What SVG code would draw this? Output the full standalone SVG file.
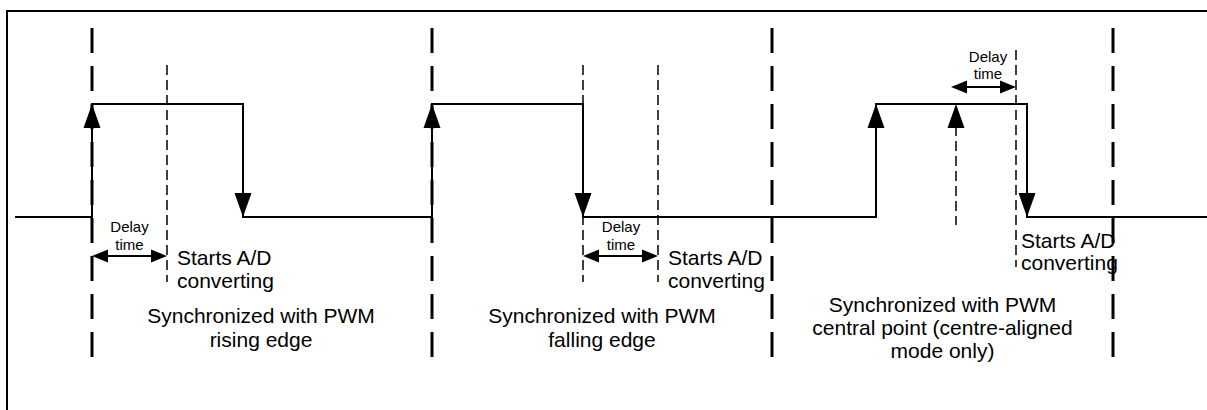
<svg xmlns="http://www.w3.org/2000/svg" xmlns:xlink="http://www.w3.org/1999/xlink" width="1207" height="410" viewBox="0 0 1207 410">
  <style>
    .frame { fill: none; stroke: #000; stroke-width: 2; }
    .thick { stroke: #000; stroke-width: 3; stroke-dasharray: 25 13; fill: none; }
    .thin { stroke: #000; stroke-width: 1.5; stroke-dasharray: 10 5; fill: none; }
    .wave { stroke: #000; stroke-width: 2; fill: none; }
    .delay { stroke: #000; stroke-width: 2; fill: none; }
    .head { fill: #000; stroke: none; }
    .lbl { font-family: "Liberation Sans", Arial, sans-serif; font-size: 21px; fill: #000; }
    .sm { font-family: "Liberation Sans", Arial, sans-serif; font-size: 15px; fill: #000; text-anchor: middle; }
    .mid { text-anchor: middle; }
  </style>
  <defs>
    <path id="vHead" class="head" d="M0,0 L-8.5,24 L8.5,24 Z"/>
    <path id="hHead" class="head" d="M0,0 L16,-6.5 L16,6.5 Z"/>
  </defs>
  <rect class="frame" x="7" y="11" width="1212" height="412"/>

  <g id="sync-lines">
    <line class="thick" x1="92" y1="28" x2="92" y2="358"/>
    <line class="thick" x1="432" y1="28" x2="432" y2="358"/>
    <line class="thick" x1="772" y1="28" x2="772" y2="358"/>
    <line class="thick" x1="1113" y1="28" x2="1113" y2="358"/>
    <line class="thin" x1="167" y1="65" x2="167" y2="282"/>
    <line class="thin" x1="583" y1="65" x2="583" y2="282"/>
    <line class="thin" x1="658" y1="65" x2="658" y2="282"/>
    <line class="thin" x1="1016" y1="50" x2="1016" y2="267"/>
    <line class="thin" x1="956" y1="126" x2="956" y2="225"/>
  </g>

  <g id="connectors">
    <path class="wave" d="M15,217 H92 V104 H243 V217 H432 V104 H583 V217 H876 V104 H1027 V217 H1207"/>
    <use xlink:href="#vHead" transform="translate(92,104)"/>
    <use xlink:href="#vHead" transform="translate(243,217) rotate(180)"/>
    <use xlink:href="#vHead" transform="translate(432,104)"/>
    <use xlink:href="#vHead" transform="translate(583,217) rotate(180)"/>
    <use xlink:href="#vHead" transform="translate(876,104)"/>
    <use xlink:href="#vHead" transform="translate(1027,217) rotate(180)"/>
    <use xlink:href="#vHead" transform="translate(956,104)"/>

    <line class="delay" x1="100" y1="256" x2="159" y2="256"/>
    <use xlink:href="#hHead" transform="translate(92,256)"/>
    <use xlink:href="#hHead" transform="translate(167,256) scale(-1,1)"/>

    <line class="delay" x1="591" y1="256" x2="650" y2="256"/>
    <use xlink:href="#hHead" transform="translate(583,256)"/>
    <use xlink:href="#hHead" transform="translate(658,256) scale(-1,1)"/>

    <line class="delay" x1="959" y1="87" x2="1008" y2="87"/>
    <use xlink:href="#hHead" transform="translate(951,87)"/>
    <use xlink:href="#hHead" transform="translate(1016,87) scale(-1,1)"/>
  </g>

  <g id="rising-edge">
    <text class="sm" x="129.5" y="232">Delay</text>
    <text class="sm" x="129.5" y="250">time</text>
    <text class="lbl" x="177" y="265">Starts A/D</text>
    <text class="lbl" x="177" y="288">converting</text>
    <text class="lbl mid" x="261" y="323">Synchronized with PWM</text>
    <text class="lbl mid" x="261" y="347">rising edge</text>
  </g>

  <g id="falling-edge">
    <text class="sm" x="621" y="232">Delay</text>
    <text class="sm" x="621" y="250">time</text>
    <text class="lbl" x="668" y="265">Starts A/D</text>
    <text class="lbl" x="668" y="288">converting</text>
    <text class="lbl mid" x="602" y="323">Synchronized with PWM</text>
    <text class="lbl mid" x="602" y="347">falling edge</text>
  </g>

  <g id="central-point">
    <text class="sm" x="988" y="62">Delay</text>
    <text class="sm" x="988" y="79">time</text>
    <text class="lbl" x="1021" y="248">Starts A/D</text>
    <text class="lbl" x="1021" y="270">converting</text>
    <text class="lbl mid" x="942.5" y="312">Synchronized with PWM</text>
    <text class="lbl mid" x="942.5" y="335">central point (centre-aligned</text>
    <text class="lbl mid" x="942.5" y="358">mode only)</text>
  </g>
</svg>
